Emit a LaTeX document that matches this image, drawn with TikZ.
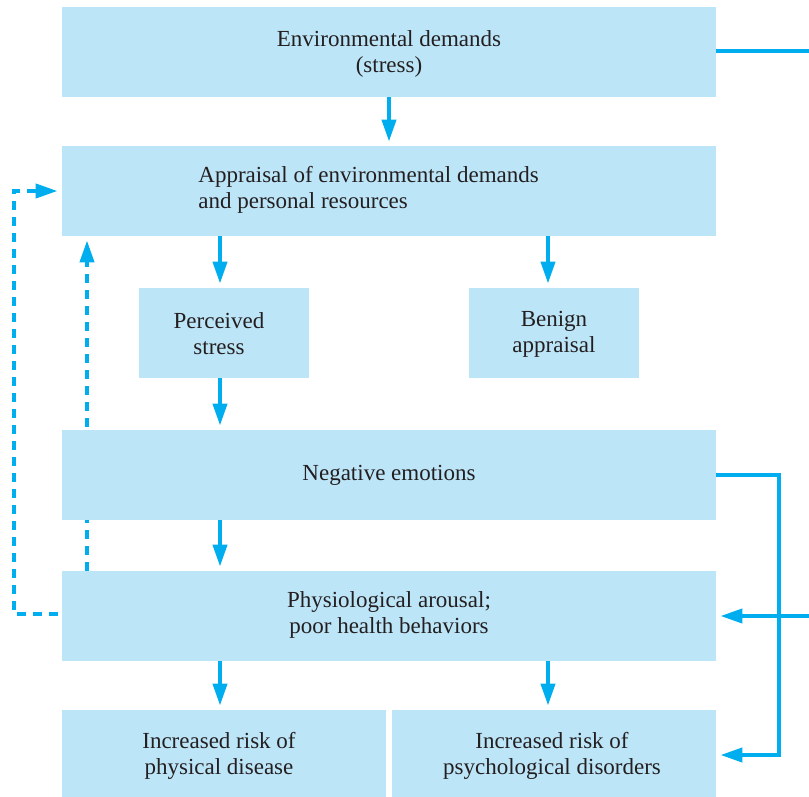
\documentclass[tikz,border=0pt]{standalone}
\usepackage{fontspec}
\setmainfont{Liberation Serif}
\usetikzlibrary{arrows.meta,backgrounds}
\definecolor{boxfill}{HTML}{BDE5F8}
\definecolor{linec}{HTML}{00AEEF}
\definecolor{txt}{HTML}{231F20}
\begin{document}
\begin{tikzpicture}[x=0.5pt,y=-0.5pt,
  box/.style={fill=boxfill,draw=none,inner sep=0pt,text=txt,align=center,font=\fontsize{11.5}{13}\selectfont},
  wide/.style={box,minimum width=327pt,minimum height=45pt},
  small/.style={box,minimum width=85pt,minimum height=45pt},
  low/.style={box,minimum width=162pt,minimum height=43.5pt},
  conn/.style={draw=linec,line width=2pt},
  arr/.style={conn,-{Triangle[length=11pt,width=7pt]},shorten >=2pt},
  darr/.style={arr,dash pattern=on 4.5pt off 3.5pt}
]
\useasboundingbox (0,0) rectangle (809,797);
\node[wide] (env) at (389,52) {};
\node[box,fill=none] (envt) at (389,54) {Environmental demands\\(stress)};
\node[wide] (appr) at (389,191) {};
\node[box,fill=none,anchor=west,align=left] (apprt) at (198,190) {Appraisal of environmental demands\\and personal resources};
\node[small] (perc) at (224,333) {};
\node[box,fill=none] (perct) at (219,334) {Perceived\\stress};
\node[small] (ben) at (554,333) {};
\node[box,fill=none] (bent) at (554,334) {Benign\\appraisal};
\node[wide] (neg) at (389,475) {};
\node[box,fill=none] (negt) at (389,475) {Negative emotions};
\node[wide] (phys) at (389,616) {};
\node[box,fill=none] (physt) at (389,615) {Physiological arousal;\\poor health behaviors};
\node[low] (r1) at (223.5,753.5) {};
\node[box,fill=none] (r1t) at (219,756) {Increased risk of\\physical disease};
\node[low] (r2) at (554,753.5) {};
\node[box,fill=none] (r2t) at (552,756) {Increased risk of\\psychological disorders};

\coordinate (eR) at (809,51);
\coordinate (pR) at (809,616);
\coordinate (nR) at (779,475);
\coordinate (nB) at (779,755);
\coordinate (dL1) at (14,614);
\coordinate (dL2) at (14,191);

\draw[arr] (env.south) -- (appr.north);
\draw[arr] (220,236) -- (perc.north -| 220,0);
\draw[arr] (548,236) -- (ben.north -| 548,0);
\draw[arr] (perc.south -| 220,0) -- (neg.north -| 220,0);
\draw[arr] (neg.south -| 220,0) -- (phys.north -| 220,0);
\draw[arr] (phys.south -| 220,0) -- (r1.north -| 220,0);
\draw[arr] (phys.south -| 548,0) -- (r2.north -| 548,0);

\draw[conn] (env.east |- eR) -- (eR);
\draw[arr] (pR) -- (phys.east);
\draw[arr,line join=miter] (neg.east |- nR) -- (nR) -- (nB) -- (r2.east |- nB);

\begin{scope}[on background layer]
\draw[darr] (phys.north -| 87,0) -- (appr.south -| 87,0);
\end{scope}
\draw[darr] ([xshift=-2pt]phys.west |- dL1) -- (dL1) -- (dL2) -- (appr.west |- dL2);
\end{tikzpicture}
\end{document}
